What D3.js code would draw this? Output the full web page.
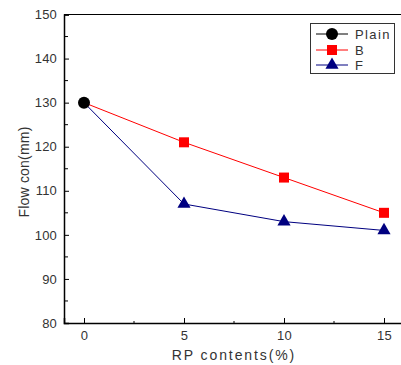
<!DOCTYPE html>
<html>
<head>
<meta charset="utf-8">
<script src="https://cdn.jsdelivr.net/npm/d3@7"></script>
<style>
  html, body { margin: 0; padding: 0; background: #fff; }
  svg text { font-family: "Liberation Sans", Arial, sans-serif; fill: #333; }
</style>
</head>
<body>
<div id="chart"></div>
<script>
// RP content (%) on the x axis
const contents = [0, 5, 10, 15];
// Flow (mm) per mix
const plainValues = [130];
const bValues = [130, 121, 113, 105];
const fValues = [130, 107, 103, 101];
const xTicks = [0, 5, 10, 15];
const yTicks = [80, 90, 100, 110, 120, 130, 140, 150];
const seriesNames = ["Plain", "B", "F"];

const W = 401, H = 365;
const svg = d3.select("#chart").append("svg")
  .attr("width", W).attr("height", H);

const x = d3.scaleLinear().domain([-1, 16]).range([64, 404]);
const y = d3.scaleLinear().domain([80, 150]).range([323, 14.5]);

// frame (top and right edges)
svg.append("line").attr("x1", 64).attr("x2", 404).attr("y1", y(150)).attr("y2", y(150))
  .attr("stroke", "#000").attr("stroke-width", 1.2);
svg.append("line").attr("x1", 404).attr("x2", 404).attr("y1", y(150)).attr("y2", y(80))
  .attr("stroke", "#000").attr("stroke-width", 1.2);

// x axis with inward ticks
const xAxis = svg.append("g").attr("transform", `translate(0,${y(80)})`)
  .call(d3.axisBottom(x).tickValues(xTicks).tickSize(-5).tickPadding(8).tickFormat(d3.format("d")));
xAxis.select(".domain").attr("stroke", "#000").attr("stroke-width", 1.5);
xAxis.selectAll(".tick line").attr("stroke", "#000");
xAxis.selectAll("text").attr("font-size", 13).attr("letter-spacing", 0.2).attr("fill", "#333")
  .attr("font-family", "Liberation Sans, Arial, sans-serif");
// minor x ticks
svg.append("g").selectAll("line").data([2.5, 7.5, 12.5]).join("line")
  .attr("x1", d => x(d)).attr("x2", d => x(d))
  .attr("y1", y(80)).attr("y2", y(80) - 2).attr("stroke", "#000");

// y axis with inward ticks
const yAxis = svg.append("g").attr("transform", `translate(64,0)`)
  .call(d3.axisLeft(y).tickValues(yTicks).tickSize(-5).tickPadding(7).tickFormat(d3.format("d")));
yAxis.select(".domain").attr("stroke", "#000").attr("stroke-width", 1.5);
yAxis.selectAll(".tick line").attr("stroke", "#000");
yAxis.selectAll("text").attr("font-size", 13).attr("letter-spacing", 0.2).attr("fill", "#333")
  .attr("font-family", "Liberation Sans, Arial, sans-serif");
// minor y ticks
svg.append("g").selectAll("line").data([85, 95, 105, 115, 125, 135, 145]).join("line")
  .attr("x1", 64).attr("x2", 68)
  .attr("y1", d => y(d)).attr("y2", d => y(d)).attr("stroke", "#000");

// axis titles
svg.append("text").attr("x", 234).attr("y", 360).attr("text-anchor", "middle")
  .attr("font-size", 14).attr("letter-spacing", 1.9).text("RP contents(%)");
svg.append("text").attr("transform", "translate(29,172) rotate(-90)")
  .attr("text-anchor", "middle").attr("font-size", 14).attr("letter-spacing", 0.2)
  .text("Flow con(mm)");

const line = d3.line().x((d, i) => x(contents[i])).y(d => y(d));

// B series
svg.append("path").datum(bValues).attr("d", line)
  .attr("fill", "none").attr("stroke", "#ff0000").attr("stroke-width", 1);
// F series
svg.append("path").datum(fValues).attr("d", line)
  .attr("fill", "none").attr("stroke", "#000080").attr("stroke-width", 1);

const sq = 10;
svg.append("g").selectAll("rect").data(bValues.slice(1)).join("rect")
  .attr("x", (d, i) => x(contents[i + 1]) - sq / 2)
  .attr("y", d => y(d) - sq / 2)
  .attr("width", sq).attr("height", sq).attr("fill", "#ff0000");

const tri = d3.symbol().type(d3.symbolTriangle).size(75);
svg.append("g").selectAll("path").data(fValues.slice(1)).join("path")
  .attr("d", tri)
  .attr("transform", (d, i) => `translate(${x(contents[i + 1])},${y(d)})`)
  .attr("fill", "#000080");

svg.append("g").selectAll("circle").data(plainValues).join("circle")
  .attr("cx", (d, i) => x(contents[i])).attr("cy", d => y(d)).attr("r", 6)
  .attr("fill", "#000");

// legend
const lg = svg.append("g");
lg.append("rect").attr("x", 310.5).attr("y", 23.5).attr("width", 84).attr("height", 50)
  .attr("fill", "#fff").attr("stroke", "#333").attr("stroke-width", 1);
const rowsY = [34, 50, 65];
const colors = ["#000", "#ff0000", "#000080"];
seriesNames.forEach((name, i) => {
  lg.append("line").attr("x1", 316).attr("x2", 348).attr("y1", rowsY[i]).attr("y2", rowsY[i])
    .attr("stroke", colors[i]).attr("stroke-width", 1);
  if (i === 0) {
    lg.append("circle").attr("cx", 332).attr("cy", rowsY[i]).attr("r", 6).attr("fill", colors[i]);
  } else if (i === 1) {
    lg.append("rect").attr("x", 332 - sq / 2).attr("y", rowsY[i] - sq / 2)
      .attr("width", sq).attr("height", sq).attr("fill", colors[i]);
  } else {
    lg.append("path").attr("d", tri).attr("transform", `translate(332,${rowsY[i]})`).attr("fill", colors[i]);
  }
  lg.append("text").attr("x", 355).attr("y", rowsY[i] + 5).attr("font-size", 13)
    .attr("letter-spacing", 1.4).text(name);
});
</script>
</body>
</html>
